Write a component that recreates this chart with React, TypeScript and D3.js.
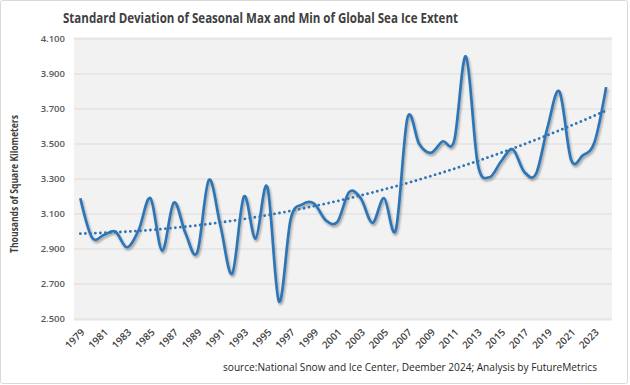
import React from 'react';
import * as d3 from 'd3';

// values
const years = d3.range(1979, 2025);
const stdDev = [
  3.19, 2.965, 2.98, 3.0, 2.91, 3.01, 3.19, 2.89, 3.165, 2.99,
  2.88, 3.295, 3.03, 2.76, 3.2, 2.96, 3.255, 2.6, 3.07, 3.155,
  3.16, 3.065, 3.055, 3.225, 3.19, 3.05, 3.19, 3.01, 3.65, 3.5,
  3.45, 3.515, 3.52, 4.0, 3.39, 3.31, 3.4, 3.47, 3.34, 3.33,
  3.6, 3.8, 3.41, 3.435, 3.51, 3.825,
];
const yTicks = [2.5, 2.7, 2.9, 3.1, 3.3, 3.5, 3.7, 3.9, 4.1];
const xTickYears = years.filter((y) => (y - 1979) % 2 === 0);

const title = 'Standard Deviation of Seasonal Max and Min of Global Sea Ice Extent';
const yTitle = 'Thousands of Square Kilometers';
const source = 'source:National Snow and Ice Center, Deember 2024;  Analysis by FutureMetrics';

// 2nd order polynomial trend, like the excel trendline
function polyFit(ys: number[]) {
  const S = [0, 0, 0, 0, 0];
  const T = [0, 0, 0];
  ys.forEach((y, i) => {
    const t = i + 1;
    for (let k = 0; k < 5; k++) S[k] += Math.pow(t, k);
    for (let k = 0; k < 3; k++) T[k] += y * Math.pow(t, k);
  });
  const A = [
    [S[0], S[1], S[2], T[0]],
    [S[1], S[2], S[3], T[1]],
    [S[2], S[3], S[4], T[2]],
  ];
  for (let c = 0; c < 3; c++) {
    for (let r = c + 1; r < 3; r++) {
      const f = A[r][c] / A[c][c];
      for (let k = c; k < 4; k++) A[r][k] -= f * A[c][k];
    }
  }
  const coef = [0, 0, 0];
  for (let r = 2; r >= 0; r--) {
    let s = A[r][3];
    for (let k = r + 1; k < 3; k++) s -= A[r][k] * coef[k];
    coef[r] = s / A[r][r];
  }
  return ys.map((_, i) => coef[0] + coef[1] * (i + 1) + coef[2] * (i + 1) * (i + 1));
}

const App = () => {
  const W = 630;
  const H = 385;
  const plot = { left: 74, right: 612, top: 37, bottom: 321 };

  const x = d3.scalePoint<number>().domain(years).range([plot.left + 0.5, plot.right]).padding(0.5);
  const y = d3.scaleLinear().domain([2.5, 4.1]).range([319, 39]);

  const line = d3
    .line<number>()
    .x((_, i) => x(years[i]) as number)
    .y((d) => y(d))
    .curve(d3.curveCardinal.tension(0));

  const trend = polyFit(stdDev);
  const trendLine = d3
    .line<number>()
    .x((_, i) => x(years[i]) as number)
    .y((d) => y(d));

  const font = "'Open Sans', 'Liberation Sans', sans-serif";

  return (
    <svg width={W} height={H} style={{ position: 'absolute', left: 0, top: 0 }} fontFamily={font}>
      <defs>
        <filter id="shadow" x="-5%" y="-5%" width="110%" height="120%">
          <feDropShadow dx="1.2" dy="2" stdDeviation="1" floodColor="#000" floodOpacity="0.35" />
        </filter>
      </defs>
      <rect x={0.5} y={0.5} width={W - 3} height={H - 2} rx={2} fill="#fff" stroke="#d9d9d9" />

      <text x={63} y={23} textLength={395} lengthAdjust="spacingAndGlyphs" fontSize={14} fontWeight="bold" fill="#404040">
        {title}
      </text>

      <rect x={plot.left} y={plot.top} width={plot.right - plot.left} height={plot.bottom - plot.top} fill="#f2f2f2" />

      {yTicks.map((t) => (
        <g key={t}>
          <line x1={plot.left} x2={plot.right} y1={y(t)} y2={y(t)} stroke="#dcdcdc" strokeWidth={1} />
          <text x={65} y={y(t)} dy="0.35em" textAnchor="end" fontSize={9.5} fontWeight={600} fill="#595959">
            {d3.format('.3f')(t)}
          </text>
        </g>
      ))}

      <text
        transform={`translate(18, 184) rotate(-90)`}
        textAnchor="middle"
        fontSize={10}
        fontWeight="bold"
        fill="#404040"
        textLength={138}
        lengthAdjust="spacingAndGlyphs"
      >
        {yTitle}
      </text>

      {xTickYears.map((yr) => (
        <text
          key={yr}
          transform={`translate(${(x(yr) as number) + 5}, 333) rotate(-45)`}
          textAnchor="end"
          fontSize={10}
          fontWeight={600}
          fill="#404040"
        >
          {yr}
        </text>
      ))}

      <path d={line(stdDev) || ''} fill="none" stroke="#2e75b6" strokeWidth={2.7} filter="url(#shadow)" />
      <path
        d={trendLine(trend) || ''}
        fill="none"
        stroke="#2e75b6"
        strokeWidth={2.8}
        strokeDasharray="0.01 5"
        strokeLinecap="round"
      />

      <text x={597} y={371} textAnchor="end" fontSize={10} fill="#262626" textLength={374} lengthAdjust="spacingAndGlyphs">
        {source}
      </text>
    </svg>
  );
};

export default App;
